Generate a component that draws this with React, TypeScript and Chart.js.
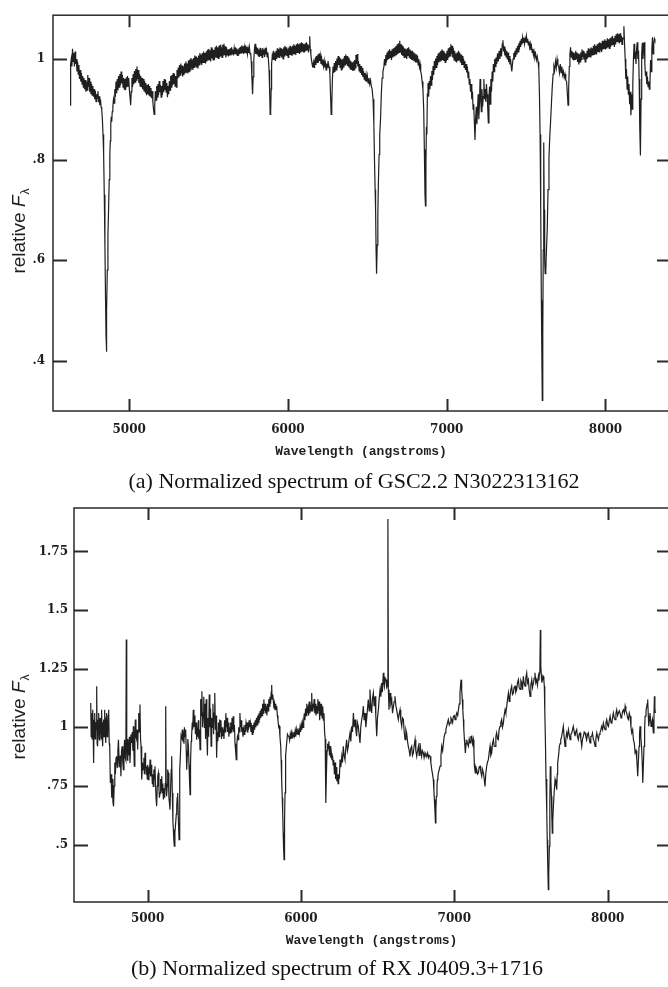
import React, { useEffect, useRef } from "react";
import { Chart, registerables } from "chart.js";
Chart.register(...registerables);

// ---------- axes / labels ----------
const xTicks = [5000, 6000, 7000, 8000];
const xMin = 4520;
const xMax = 8400;
const yTicksA = [0.4, 0.6, 0.8, 1];
const yTicksB = [0.5, 0.75, 1, 1.25, 1.5, 1.75];
const yMinA = 0.3;
const yMaxA = 1.087;
const yMinB = 0.255;
const yMaxB = 1.935;
const xTitle = "Wavelength (angstroms)";
const captionA = "(a) Normalized spectrum of GSC2.2 N3022313162";
const captionB = "(b) Normalized spectrum of RX J0409.3+1716";

// ---------- spectrum (a): [wavelength Å, relative flux] ----------
const spectrumA: [number, number][] = [
[4628,.908],[4631,.99],[4635,1.0],[4639,.985],[4643,1.02],[4647,.995],[4651,1.012],[4655,.985],[4659,1.015],[4663,.99],[4667,1.0],[4671,.975],[4675,.995],[4679,.97],[4683,.988],[4687,.96],[4691,.978],[4695,.955],[4699,.972],[4703,.95],[4707,.966],[4711,.944],[4715,.962],[4719,.94],[4723,.958],[4727,.935],[4731,.955],[4735,.938],[4739,.968],[4743,.945],[4747,.962],[4751,.935],[4755,.955],[4759,.93],[4763,.95],[4767,.928],[4771,.946],[4775,.925],[4779,.94],[4783,.92],[4787,.936],[4791,.915],[4795,.93],[4799,.922],[4803,.936],[4807,.914],[4811,.926],[4815,.908],[4819,.92],[4823,.904],[4827,.9],[4831,.88],[4835,.85],[4839,.81],[4843,.73],[4847,.63],[4851,.52],[4854,.45],[4856,.418],[4859,.5],[4862,.58],[4866,.65],[4870,.7],[4874,.76],[4878,.81],[4881,.837],[4884,.87],[4887,.885],[4890,.875],[4893,.895],[4897,.905],[4901,.92],[4905,.912],[4909,.94],[4913,.925],[4917,.955],[4921,.932],[4925,.96],[4929,.938],[4933,.966],[4937,.944],[4941,.97],[4945,.948],[4949,.975],[4953,.952],[4957,.968],[4961,.944],[4965,.962],[4969,.94],[4973,.96],[4977,.938],[4981,.963],[4985,.944],[4989,.966],[4993,.946],[4997,.962],[5001,.94],[5005,.925],[5009,.908],[5013,.935],[5017,.962],[5021,.944],[5025,.97],[5029,.95],[5033,.976],[5037,.954],[5041,.98],[5045,.958],[5049,.985],[5053,.96],[5057,.978],[5061,.952],[5065,.97],[5069,.946],[5073,.966],[5077,.944],[5081,.962],[5085,.94],[5089,.96],[5093,.936],[5097,.956],[5101,.934],[5105,.952],[5109,.928],[5113,.948],[5117,.93],[5121,.95],[5125,.928],[5129,.946],[5133,.926],[5137,.942],[5141,.922],[5145,.936],[5149,.915],[5153,.9],[5157,.89],[5161,.91],[5165,.936],[5169,.918],[5173,.946],[5177,.924],[5181,.95],[5185,.928],[5189,.956],[5193,.934],[5197,.948],[5201,.924],[5205,.946],[5209,.928],[5213,.956],[5217,.934],[5221,.96],[5225,.938],[5229,.958],[5233,.934],[5237,.952],[5241,.924],[5245,.946],[5249,.93],[5253,.956],[5257,.938],[5261,.966],[5265,.944],[5269,.968],[5273,.948],[5277,.972],[5281,.95],[5285,.97],[5289,.946],[5293,.966],[5297,.944],[5301,.978],[5305,.961],[5309,.983],[5313,.963],[5317,.988],[5321,.968],[5325,.991],[5329,.971],[5333,.987],[5337,.965],[5341,.985],[5345,.968],[5349,.991],[5353,.973],[5357,.995],[5361,.973],[5365,.991],[5369,.971],[5373,.997],[5377,.975],[5381,.999],[5385,.978],[5389,1.002],[5393,.981],[5397,.999],[5401,.978],[5405,1.002],[5409,.983],[5413,1.007],[5417,.985],[5421,1.005],[5425,.983],[5429,1.002],[5433,.981],[5437,1.007],[5441,.988],[5445,1.012],[5449,.991],[5453,1.009],[5457,.988],[5461,1.012],[5465,.993],[5469,1.015],[5473,.993],[5477,1.012],[5481,.991],[5485,1.015],[5489,.995],[5493,1.018],[5497,.998],[5501,1.02],[5505,.998],[5509,1.017],[5513,.995],[5517,1.023],[5521,1.001],[5525,1.02],[5529,.998],[5533,1.018],[5537,.998],[5541,1.023],[5545,1.003],[5549,1.026],[5553,1.003],[5557,1.023],[5561,1.001],[5565,1.026],[5569,1.003],[5573,1.028],[5577,1.005],[5581,1.023],[5585,1.003],[5589,1.028],[5593,1.008],[5597,1.03],[5601,1.008],[5605,1.025],[5609,1.003],[5613,1.023],[5617,1.008],[5621,1.019],[5625,1.005],[5629,1.019],[5633,1.007],[5637,1.021],[5641,1.007],[5645,1.023],[5649,1.01],[5653,1.019],[5657,1.007],[5661,1.021],[5665,1.01],[5669,1.023],[5673,1.01],[5677,1.021],[5681,1.007],[5685,1.019],[5689,1.007],[5693,1.022],[5697,1.01],[5701,1.024],[5705,1.012],[5709,1.027],[5713,1.012],[5717,1.025],[5721,1.01],[5725,1.023],[5729,1.012],[5733,1.027],[5737,1.012],[5741,1.024],[5745,1.01],[5749,1.021],[5753,1.012],[5757,1.023],[5761,1.01],[5765,1.012],[5769,.995],[5773,.96],[5777,.93],[5781,.965],[5785,1.0],[5789,1.02],[5793,1.03],[5797,1.01],[5801,1.024],[5805,1.01],[5809,1.022],[5813,1.006],[5817,1.019],[5821,1.004],[5825,1.022],[5829,1.006],[5833,1.018],[5837,1.003],[5841,1.022],[5845,1.009],[5849,1.019],[5853,1.004],[5857,1.022],[5861,1.009],[5865,1.017],[5869,1.004],[5873,1.013],[5877,.998],[5881,.978],[5885,.93],[5888,.89],[5891,.895],[5894,.94],[5897,.99],[5901,1.006],[5905,.998],[5909,1.016],[5913,.999],[5917,1.013],[5921,.996],[5925,1.016],[5929,1.0],[5933,1.021],[5937,1.003],[5941,1.019],[5945,1.003],[5949,1.023],[5953,1.006],[5957,1.021],[5961,1.003],[5965,1.019],[5969,1.0],[5973,1.023],[5977,1.006],[5981,1.026],[5985,1.008],[5989,1.023],[5993,1.006],[5997,1.019],[6001,1.003],[6005,1.023],[6009,1.008],[6013,1.026],[6017,1.008],[6021,1.023],[6025,1.006],[6029,1.026],[6033,1.01],[6037,1.029],[6041,1.01],[6045,1.026],[6049,1.008],[6053,1.029],[6057,1.013],[6061,1.031],[6065,1.013],[6069,1.029],[6073,1.01],[6077,1.031],[6081,1.013],[6085,1.033],[6089,1.016],[6093,1.031],[6097,1.013],[6101,1.029],[6105,1.013],[6109,1.031],[6113,1.016],[6117,1.033],[6121,1.018],[6125,1.029],[6129,1.013],[6133,1.026],[6137,1.045],[6140,1.02],[6144,1.01],[6148,.998],[6152,.99],[6156,.983],[6160,.993],[6164,.983],[6168,.996],[6172,1.0],[6176,.988],[6180,1.006],[6184,.993],[6188,1.009],[6192,.993],[6196,1.011],[6200,.996],[6204,1.006],[6208,.99],[6212,1.001],[6216,.988],[6220,.999],[6224,.986],[6228,.996],[6232,.983],[6236,.991],[6240,.978],[6244,.991],[6248,.983],[6252,.996],[6256,.988],[6260,.984],[6264,.97],[6268,.93],[6272,.89],[6276,.91],[6280,.96],[6284,.985],[6288,.972],[6292,.992],[6296,.974],[6300,.996],[6304,.978],[6308,1.001],[6312,.983],[6316,1.006],[6320,.988],[6324,1.004],[6328,.983],[6332,1.001],[6336,.978],[6340,.999],[6344,.98],[6348,1.001],[6352,.983],[6356,1.006],[6360,.988],[6364,1.009],[6368,.99],[6372,1.006],[6376,.986],[6380,1.003],[6384,.983],[6388,.999],[6392,.98],[6396,.996],[6400,.978],[6404,.993],[6408,.976],[6412,.995],[6416,.978],[6420,.998],[6424,.982],[6428,1.008],[6432,.99],[6436,1.01],[6440,.985],[6444,.996],[6448,.976],[6452,.99],[6456,.972],[6460,.986],[6464,.968],[6468,.982],[6472,.964],[6476,.976],[6480,.96],[6484,.972],[6488,.956],[6492,.968],[6496,.955],[6500,.966],[6505,.952],[6510,.962],[6515,.95],[6520,.958],[6525,.946],[6530,.94],[6536,.92],[6541,.87],[6545,.8],[6549,.74],[6552,.7],[6555,.62],[6558,.573],[6562,.63],[6566,.69],[6570,.76],[6574,.81],[6578,.85],[6583,.88],[6588,.93],[6593,.962],[6598,.975],[6604,.984],[6608,1.0],[6612,.988],[6616,1.008],[6620,.993],[6624,1.013],[6628,.998],[6632,1.016],[6636,1.0],[6640,1.019],[6644,1.003],[6648,1.016],[6652,.998],[6656,1.019],[6660,1.003],[6664,1.021],[6668,1.006],[6672,1.023],[6676,1.008],[6680,1.026],[6684,1.008],[6688,1.029],[6692,1.01],[6696,1.031],[6700,1.013],[6704,1.036],[6708,1.013],[6712,1.029],[6716,1.008],[6720,1.026],[6724,1.006],[6728,1.023],[6732,1.003],[6736,1.021],[6740,1.003],[6744,1.019],[6748,1.0],[6752,1.021],[6756,1.006],[6760,1.023],[6764,1.003],[6768,1.019],[6772,1.0],[6776,1.016],[6780,.998],[6784,1.016],[6788,.998],[6792,1.013],[6796,.996],[6800,1.011],[6804,.993],[6808,1.009],[6812,.993],[6816,1.006],[6820,.988],[6824,1.0],[6828,.984],[6832,.99],[6836,.975],[6840,.97],[6845,.955],[6850,.94],[6855,.9],[6859,.82],[6863,.73],[6866,.708],[6869,.79],[6872,.865],[6875,.85],[6878,.93],[6882,.952],[6886,.925],[6890,.956],[6894,.94],[6898,.966],[6902,.948],[6906,.976],[6910,.958],[6914,.986],[6918,.968],[6922,.996],[6926,.978],[6930,1.001],[6934,.983],[6938,1.006],[6942,.988],[6946,1.011],[6950,.993],[6954,1.013],[6958,.996],[6962,1.016],[6966,.998],[6970,1.019],[6974,.998],[6978,1.016],[6982,.996],[6986,1.013],[6990,.993],[6994,1.011],[6998,.996],[7002,1.016],[7006,.998],[7010,1.021],[7014,1.003],[7018,1.023],[7022,1.006],[7026,1.029],[7030,1.01],[7034,1.026],[7038,1.003],[7042,1.021],[7046,.998],[7050,1.016],[7054,.996],[7058,1.011],[7062,.993],[7066,1.013],[7070,.996],[7074,1.016],[7078,.998],[7082,1.013],[7086,.993],[7090,1.009],[7094,.988],[7098,1.006],[7102,.988],[7106,1.001],[7110,.983],[7114,.996],[7118,.978],[7122,.99],[7126,.973],[7130,.985],[7134,.963],[7138,.975],[7142,.95],[7146,.96],[7150,.935],[7154,.95],[7158,.92],[7162,.935],[7166,.9],[7170,.91],[7174,.875],[7178,.839],[7182,.88],[7186,.905],[7190,.87],[7194,.9],[7198,.93],[7202,.88],[7206,.91],[7210,.96],[7214,.92],[7218,.895],[7222,.94],[7226,.905],[7230,.925],[7234,.96],[7238,.92],[7242,.94],[7246,.915],[7250,.95],[7254,.93],[7258,.905],[7262,.873],[7266,.925],[7270,.945],[7274,.91],[7278,.96],[7282,.935],[7286,.975],[7290,.955],[7294,.99],[7298,.975],[7302,1.0],[7306,.985],[7310,1.003],[7315,.99],[7320,1.011],[7325,.995],[7330,1.016],[7335,1.0],[7340,1.021],[7345,1.005],[7350,1.03],[7354,1.037],[7358,1.015],[7362,1.025],[7366,1.007],[7370,1.02],[7374,1.004],[7378,1.016],[7382,.999],[7386,1.013],[7390,.994],[7394,1.006],[7398,.989],[7402,1.0],[7406,.985],[7410,.975],[7414,.99],[7418,1.0],[7422,1.012],[7426,.999],[7430,1.016],[7434,1.004],[7438,1.021],[7442,1.009],[7446,1.026],[7450,1.014],[7454,1.031],[7458,1.019],[7462,1.036],[7466,1.024],[7470,1.04],[7474,1.029],[7478,1.043],[7482,1.033],[7486,1.042],[7490,1.03],[7494,1.04],[7498,1.033],[7502,1.045],[7506,1.033],[7510,1.04],[7514,1.028],[7518,1.035],[7522,1.023],[7526,1.03],[7530,1.018],[7534,1.025],[7538,1.013],[7542,1.02],[7546,1.008],[7550,1.015],[7555,1.003],[7560,1.01],[7565,.998],[7570,1.005],[7575,.995],[7580,.98],[7584,.93],[7588,.85],[7592,.7],[7596,.52],[7600,.38],[7602,.321],[7605,.45],[7608,.62],[7611,.834],[7614,.7],[7617,.6],[7620,.573],[7624,.58],[7628,.62],[7633,.66],[7638,.74],[7644,.805],[7649,.845],[7654,.875],[7660,.915],[7665,.946],[7670,.97],[7675,.985],[7680,.978],[7685,.995],[7690,.983],[7695,1.0],[7700,.988],[7705,.985],[7710,.973],[7715,.99],[7720,.973],[7725,.985],[7730,.968],[7735,.975],[7740,.963],[7745,.97],[7750,.958],[7755,.955],[7760,.93],[7764,.908],[7768,.94],[7772,.985],[7776,1.01],[7780,1.023],[7784,1.004],[7788,1.016],[7792,.999],[7796,1.013],[7800,.997],[7804,1.011],[7808,.999],[7812,1.016],[7816,1.001],[7820,1.013],[7824,.994],[7828,1.011],[7832,.989],[7836,1.009],[7840,.994],[7844,1.013],[7848,.999],[7852,1.019],[7856,1.004],[7860,1.016],[7864,.999],[7868,1.013],[7872,.994],[7876,1.011],[7880,.999],[7884,1.016],[7888,1.001],[7892,1.021],[7896,1.004],[7900,1.019],[7904,1.004],[7908,1.023],[7912,1.007],[7916,1.021],[7920,1.007],[7924,1.026],[7928,1.009],[7932,1.029],[7936,1.011],[7940,1.026],[7944,1.009],[7948,1.029],[7952,1.014],[7956,1.031],[7960,1.014],[7964,1.033],[7968,1.017],[7972,1.031],[7976,1.014],[7980,1.036],[7984,1.019],[7988,1.036],[7992,1.021],[7996,1.039],[8000,1.019],[8004,1.036],[8008,1.021],[8012,1.041],[8016,1.024],[8020,1.039],[8024,1.021],[8028,1.041],[8032,1.024],[8036,1.043],[8040,1.027],[8044,1.046],[8048,1.029],[8052,1.041],[8056,1.024],[8060,1.046],[8064,1.029],[8068,1.049],[8072,1.034],[8076,1.051],[8080,1.034],[8084,1.049],[8088,1.031],[8092,1.051],[8096,1.034],[8100,1.046],[8104,1.029],[8108,1.041],[8112,1.04],[8116,1.065],[8120,1.03],[8124,1.0],[8128,.96],[8132,.98],[8136,.94],[8140,.965],[8144,.93],[8148,.95],[8152,.91],[8156,.935],[8160,.888],[8164,.93],[8168,.9],[8172,.95],[8176,1.0],[8180,1.03],[8184,1.0],[8188,1.015],[8192,.99],[8196,1.02],[8200,1.033],[8204,1.0],[8208,1.017],[8212,.96],[8216,.86],[8220,.808],[8224,.92],[8228,1.01],[8232,1.032],[8236,1.0],[8240,1.025],[8244,1.033],[8248,.99],[8252,.966],[8256,.975],[8260,.95],[8264,.965],[8268,.945],[8272,.955],[8276,.94],[8280,.95],[8284,.998],[8288,.975],[8292,1.02],[8296,1.043],[8300,1.01],[8304,1.03],[8308,1.04],[8311,1.037]
];

// ---------- spectrum (b): [wavelength Å, relative flux] ----------
const spectrumB: [number, number][] = [
[4629,1.104],[4632,.96],[4635,1.06],[4638,.95],[4642,1.075],[4645,.99],[4648,.848],[4651,1.03],[4655,1.061],[4658,.95],[4661,.976],[4664,1.02],[4668,1.175],[4671,.93],[4674,.919],[4677,1.03],[4681,1.061],[4684,.95],[4687,.947],[4690,1.04],[4694,1.018],[4697,.95],[4700,1.075],[4703,.98],[4707,.919],[4710,1.02],[4713,1.033],[4716,.96],[4720,1.075],[4723,1.0],[4727,.933],[4730,1.04],[4733,1.061],[4736,.96],[4740,.976],[4743,1.05],[4746,1.075],[4750,.93],[4753,.919],[4757,.763],[4762,.8],[4766,.7],[4770,.78],[4774,.68],[4778,.663],[4782,.75],[4786,.85],[4790,.8],[4794,.87],[4798,.876],[4802,.83],[4806,.9],[4810,.947],[4814,.86],[4818,.83],[4822,.88],[4826,.791],[4830,.9],[4834,.919],[4838,.85],[4842,.819],[4846,.9],[4850,.947],[4854,.87],[4858,.86],[4861,1.374],[4864,.93],[4868,.86],[4871,.95],[4874,.919],[4878,.88],[4881,.96],[4885,.848],[4888,.9],[4892,.97],[4896,.933],[4900,.98],[4904,.9],[4907,1.004],[4910,.92],[4913,.834],[4917,.95],[4920,1.033],[4924,.96],[4929,.947],[4932,.99],[4935,.905],[4938,.98],[4942,1.061],[4946,.98],[4950,1.097],[4954,.95],[4957,.919],[4960,.86],[4963,.777],[4967,.85],[4972,.819],[4976,.87],[4979,.8],[4983,.891],[4987,.84],[4990,.8],[4994,.834],[4998,.78],[5001,.84],[5005,.777],[5009,.83],[5012,.8],[5016,.862],[5020,.79],[5023,.84],[5027,.805],[5031,.76],[5034,.8],[5037,.748],[5041,.82],[5044,.78],[5048,.834],[5052,.75],[5055,.7],[5059,.663],[5063,.75],[5066,.79],[5070,.805],[5074,.74],[5077,.7],[5081,.72],[5085,.78],[5088,.73],[5092,.791],[5096,.72],[5099,.76],[5103,.692],[5107,.74],[5111,.7],[5115,.76],[5118,1.09],[5121,.76],[5124,.706],[5128,.75],[5131,.82],[5135,.805],[5139,.7],[5142,.68],[5146,.649],[5150,.74],[5154,.82],[5157,.876],[5161,.72],[5165,.6],[5168,.564],[5171,.52],[5174,.493],[5178,.55],[5183,.592],[5187,.63],[5190,.663],[5193,.7],[5196,.72],[5200,.62],[5205,.521],[5208,.68],[5211,.819],[5215,.9],[5218,.96],[5222,.947],[5226,.99],[5230,.94],[5233,.98],[5237,.93],[5240,1.0],[5244,.96],[5248,.99],[5252,.9],[5255,.819],[5259,.88],[5262,.95],[5266,.919],[5270,.84],[5274,.76],[5277,.713],[5280,.85],[5284,.94],[5287,.962],[5291,1.02],[5294,.99],[5298,1.075],[5302,1.0],[5305,1.05],[5309,1.033],[5312,.97],[5316,1.02],[5320,.947],[5324,1.0],[5327,.96],[5331,1.03],[5334,.95],[5338,.99],[5342,.905],[5346,1.12],[5350,1.05],[5354,1.154],[5358,1.0],[5362,1.06],[5366,1.13],[5370,1.0],[5374,1.1],[5378,.95],[5382,1.12],[5386,.98],[5390,.88],[5394,1.04],[5398,.96],[5402,1.14],[5406,1.0],[5410,1.08],[5414,.92],[5418,1.04],[5422,1.0],[5426,1.1],[5430,.97],[5434,1.06],[5438,1.146],[5442,.99],[5446,1.05],[5450,.87],[5454,.98],[5458,.94],[5462,1.02],[5466,.96],[5470,1.033],[5474,.98],[5478,1.03],[5482,.95],[5486,1.0],[5490,.962],[5494,.99],[5498,.95],[5502,1.03],[5506,.98],[5510,1.06],[5514,1.0],[5518,1.04],[5522,.98],[5526,1.02],[5530,.96],[5534,1.0],[5538,.976],[5542,1.02],[5546,.98],[5550,1.04],[5554,.99],[5558,1.047],[5562,.98],[5566,1.01],[5570,.93],[5574,.9],[5578,.862],[5582,.93],[5586,.96],[5590,.947],[5594,1.0],[5598,.98],[5602,1.061],[5606,1.0],[5610,1.03],[5614,.98],[5618,1.0],[5622,.96],[5626,.99],[5630,.97],[5634,1.01],[5638,.98],[5642,1.02],[5646,1.004],[5650,.98],[5654,1.02],[5658,.99],[5662,1.03],[5666,1.0],[5670,1.018],[5674,.98],[5678,1.0],[5682,.97],[5686,1.01],[5690,.976],[5694,1.02],[5698,.99],[5702,1.03],[5706,1.0],[5710,1.04],[5714,1.01],[5718,1.05],[5722,1.02],[5726,1.06],[5730,1.03],[5734,1.07],[5738,1.04],[5742,1.08],[5746,1.05],[5750,1.1],[5754,1.06],[5758,1.118],[5762,1.07],[5766,1.1],[5770,1.06],[5774,1.09],[5778,1.05],[5782,1.1],[5786,1.07],[5790,1.12],[5794,1.09],[5798,1.13],[5802,1.1],[5806,1.15],[5809,1.18],[5812,1.12],[5816,1.14],[5820,1.111],[5824,1.08],[5828,1.1],[5831,1.075],[5835,1.1],[5838,1.08],[5842,1.09],[5846,1.05],[5850,1.03],[5855,1.0],[5859,1.004],[5863,.96],[5868,.919],[5871,.86],[5874,.777],[5878,.7],[5881,.635],[5884,.55],[5887,.48],[5890,.436],[5893,.6],[5896,.72],[5898,.777],[5902,.88],[5907,.933],[5912,.97],[5918,.962],[5922,.96],[5926,.945],[5930,.97],[5934,.95],[5938,.975],[5942,.955],[5946,.97],[5950,.96],[5954,.98],[5958,.965],[5962,.985],[5966,.96],[5970,.99],[5974,.97],[5978,.985],[5982,.97],[5986,.995],[5990,.975],[5994,1.0],[5998,.98],[6002,1.01],[6006,.99],[6010,1.02],[6014,1.0],[6018,1.03],[6022,1.06],[6026,1.03],[6030,1.08],[6034,1.05],[6038,1.1],[6042,1.06],[6046,1.08],[6050,1.05],[6054,1.11],[6058,1.06],[6062,1.09],[6066,1.07],[6070,1.146],[6074,1.07],[6078,1.1],[6082,1.08],[6086,1.12],[6090,1.06],[6094,1.1],[6098,1.05],[6102,1.09],[6106,1.06],[6110,1.12],[6114,1.07],[6118,1.11],[6122,1.03],[6126,1.1],[6130,1.05],[6134,1.1],[6138,1.04],[6142,1.09],[6146,1.03],[6150,1.06],[6154,.98],[6158,.95],[6161,.82],[6163,.677],[6166,.8],[6170,.9],[6174,.93],[6178,.91],[6182,.94],[6186,.88],[6190,.92],[6194,.87],[6198,.89],[6202,.86],[6206,.88],[6210,.84],[6214,.86],[6218,.8],[6222,.85],[6226,.78],[6230,.83],[6234,.77],[6238,.8],[6242,.76],[6246,.8],[6250,.78],[6255,.862],[6260,.83],[6266,.876],[6271,.85],[6276,.919],[6281,.88],[6287,.862],[6292,.91],[6298,.947],[6303,.9],[6309,.919],[6314,.95],[6320,.976],[6325,.94],[6331,1.004],[6336,.98],[6342,1.061],[6347,1.0],[6353,1.033],[6358,.99],[6363,.962],[6368,1.02],[6374,1.004],[6379,.97],[6385,.933],[6390,1.0],[6396,1.033],[6401,1.05],[6407,1.09],[6412,1.03],[6418,1.061],[6423,1.0],[6428,1.033],[6434,1.08],[6439,1.118],[6445,1.07],[6450,1.161],[6455,1.1],[6461,1.061],[6466,1.12],[6472,1.146],[6477,1.09],[6483,1.132],[6488,1.05],[6494,.962],[6499,1.04],[6505,1.075],[6510,1.12],[6516,1.161],[6521,1.13],[6526,1.189],[6531,1.15],[6537,1.232],[6541,1.19],[6544,1.175],[6549,1.21],[6555,1.203],[6559,1.17],[6563,1.175],[6567,1.888],[6570,1.16],[6574,1.075],[6577,1.12],[6581,1.146],[6586,1.1],[6592,1.118],[6597,1.06],[6603,1.09],[6608,1.11],[6613,1.132],[6619,1.09],[6624,1.075],[6630,1.05],[6635,1.033],[6641,1.06],[6646,1.075],[6651,1.03],[6657,1.004],[6662,1.04],[6668,1.033],[6673,.98],[6679,.947],[6684,.99],[6689,.976],[6695,.94],[6700,.919],[6706,.9],[6711,.876],[6716,.91],[6722,.919],[6727,.88],[6733,.891],[6738,.92],[6744,.947],[6749,.9],[6755,.876],[6760,.9],[6766,.919],[6771,.88],[6776,.933],[6782,.9],[6787,.876],[6792,.9],[6798,.891],[6803,.87],[6809,.891],[6814,.88],[6820,.876],[6826,.89],[6831,.87],[6836,.88],[6842,.876],[6847,.85],[6853,.819],[6858,.8],[6863,.777],[6867,.73],[6870,.692],[6874,.64],[6877,.592],[6880,.65],[6883,.706],[6887,.75],[6890,.777],[6893,.79],[6896,.805],[6902,.82],[6907,.834],[6913,.88],[6918,.919],[6924,.9],[6929,.933],[6934,.96],[6940,.976],[6945,.99],[6950,1.004],[6956,1.02],[6961,1.033],[6967,1.01],[6972,1.018],[6978,1.04],[6983,1.033],[6989,1.02],[6994,1.047],[7000,1.05],[7005,1.033],[7011,1.05],[7016,1.061],[7022,1.05],[7027,1.075],[7032,1.1],[7037,1.146],[7041,1.18],[7044,1.203],[7048,1.16],[7052,1.118],[7056,1.07],[7059,1.033],[7062,.99],[7066,.947],[7069,.92],[7072,.891],[7077,.93],[7081,.947],[7086,.93],[7092,.919],[7097,.95],[7103,.933],[7108,.96],[7114,.962],[7119,.93],[7124,.947],[7128,.9],[7131,.834],[7134,.82],[7137,.805],[7141,.83],[7146,.819],[7151,.8],[7157,.805],[7162,.83],[7168,.834],[7173,.81],[7179,.791],[7184,.82],[7190,.805],[7195,.78],[7200,.748],[7205,.8],[7211,.834],[7216,.85],[7222,.862],[7227,.89],[7233,.919],[7238,.88],[7244,.891],[7249,.93],[7255,.947],[7260,.92],[7266,.919],[7271,.96],[7276,.976],[7282,.95],[7287,.947],[7292,.99],[7298,1.004],[7303,1.02],[7309,1.033],[7314,1.0],[7320,1.018],[7325,1.05],[7331,1.075],[7336,1.06],[7342,1.09],[7347,1.12],[7353,1.146],[7358,1.11],[7363,1.132],[7368,1.16],[7374,1.175],[7379,1.14],[7385,1.146],[7390,1.17],[7396,1.175],[7401,1.15],[7407,1.161],[7412,1.19],[7418,1.203],[7423,1.17],[7429,1.161],[7434,1.2],[7440,1.189],[7445,1.16],[7450,1.217],[7455,1.19],[7461,1.175],[7466,1.21],[7472,1.232],[7477,1.19],[7483,1.203],[7488,1.16],[7494,1.132],[7499,1.18],[7505,1.203],[7510,1.17],[7516,1.189],[7521,1.21],[7526,1.232],[7531,1.19],[7537,1.203],[7542,1.18],[7548,1.217],[7552,1.2],[7555,1.232],[7558,1.25],[7561,1.415],[7564,1.26],[7568,1.217],[7571,1.19],[7574,1.203],[7578,1.22],[7581,1.217],[7584,1.2],[7587,1.175],[7590,1.07],[7594,.947],[7598,.78],[7603,.635],[7606,.52],[7609,.421],[7613,.308],[7616,.38],[7620,.493],[7623,.68],[7626,.834],[7630,.77],[7633,.706],[7636,.62],[7639,.549],[7642,.6],[7646,.663],[7651,.72],[7657,.777],[7662,.76],[7668,.734],[7671,.8],[7674,.848],[7680,.88],[7685,.919],[7690,.93],[7694,.947],[7700,.96],[7705,.98],[7711,1.004],[7716,.96],[7722,.919],[7727,.95],[7733,.976],[7738,.96],[7744,.99],[7749,.97],[7755,.947],[7760,.97],[7766,.976],[7771,.99],[7776,1.004],[7782,.98],[7787,.962],[7792,.98],[7798,.99],[7803,.96],[7809,.947],[7814,.97],[7820,.976],[7825,.95],[7831,.919],[7836,.95],[7842,.962],[7847,.98],[7853,.976],[7858,.96],[7863,.947],[7869,.97],[7874,.976],[7880,.95],[7885,.933],[7890,.96],[7896,.962],[7901,.975],[7907,.947],[7912,.94],[7918,.919],[7923,.95],[7929,.976],[7934,.96],[7940,.947],[7945,.97],[7950,.976],[7956,.99],[7961,1.004],[7967,.99],[7972,1.018],[7978,1.0],[7983,.99],[7989,1.02],[7994,1.033],[8000,1.01],[8005,1.004],[8011,1.03],[8016,1.047],[8022,1.02],[8027,1.018],[8032,1.04],[8037,1.061],[8043,1.04],[8048,1.033],[8054,1.06],[8059,1.075],[8065,1.05],[8070,1.061],[8076,1.07],[8081,1.061],[8087,1.04],[8092,1.047],[8098,1.07],[8103,1.075],[8109,1.06],[8114,1.09],[8119,1.07],[8124,1.061],[8130,1.04],[8135,1.033],[8141,1.06],[8146,1.047],[8152,1.0],[8157,.976],[8163,.99],[8168,.947],[8174,.93],[8179,.891],[8185,.9],[8190,.862],[8193,.83],[8196,.791],[8200,.85],[8205,.919],[8208,.97],[8211,1.004],[8216,.96],[8222,.905],[8226,.84],[8229,.763],[8233,.84],[8237,.919],[8241,.99],[8244,1.047],[8250,1.07],[8255,1.09],[8258,1.1],[8261,1.118],[8265,1.05],[8268,1.004],[8272,1.03],[8276,1.061],[8280,1.03],[8283,1.004],[8288,1.02],[8292,1.033],[8295,1.0],[8298,.976],[8302,1.05],[8305,1.132],[8308,1.08],[8311,1.061]
];

const fmtTick = (v: number) => {
  const s = String(+Number(v).toFixed(2));
  return s.startsWith("0.") ? s.slice(1) : s;
};

const INK = "#1f1f1f";

const framePlugin = {
  id: "frameTicks",
  afterDraw(chart: any, _args: any, opts: any) {
    const { ctx, chartArea } = chart;
    const { left, right, top, bottom } = chartArea;
    const xs = chart.scales.x;
    const ys = chart.scales.y;
    ctx.save();
    ctx.strokeStyle = "#2a2a2a";
    ctx.lineWidth = 1.5;
    ctx.strokeRect(left, top, right - left, bottom - top);
    ctx.lineWidth = 2;
    ctx.beginPath();
    for (const t of xs.ticks) {
      const px = Math.round(xs.getPixelForValue(t.value)) + 0.5;
      ctx.moveTo(px, bottom);
      ctx.lineTo(px, bottom - 12);
      ctx.moveTo(px, top);
      ctx.lineTo(px, top + 12);
    }
    for (const t of ys.ticks) {
      const py = Math.round(ys.getPixelForValue(t.value)) + 0.5;
      ctx.moveTo(left, py);
      ctx.lineTo(left + 14, py);
      ctx.moveTo(right, py);
      ctx.lineTo(right - 12, py);
    }
    ctx.stroke();

    // y axis title: relative F_lambda (rotated)
    const cy = opts.titleY;
    const bx = opts.titleX;
    ctx.translate(bx, cy);
    ctx.rotate(-Math.PI / 2);
    ctx.fillStyle = INK;
    ctx.textBaseline = "alphabetic";
    ctx.textAlign = "left";
    const f1 = '19px "Liberation Sans", Arial, sans-serif';
    const f2 = 'italic 19px "Liberation Sans", Arial, sans-serif';
    const f3 = '12px "Liberation Sans", Arial, sans-serif';
    ctx.font = f1;
    const w1 = ctx.measureText("relative ").width;
    ctx.font = f2;
    const w2 = ctx.measureText("F").width;
    ctx.font = f3;
    const w3 = ctx.measureText("\u03bb").width;
    const total = w1 + w2 + 1 + w3;
    let x0 = -total / 2;
    ctx.font = f1;
    ctx.fillText("relative ", x0, 0);
    x0 += w1;
    ctx.font = f2;
    ctx.fillText("F", x0, 0);
    x0 += w2 + 1;
    ctx.font = f3;
    ctx.fillText("\u03bb", x0, 4);
    ctx.restore();
  },
};

type PanelProps = {
  data: [number, number][];
  yMin: number;
  yMax: number;
  yTicks: number[];
  width: number;
  height: number;
  padTop: number;
  padRight: number;
  yAxisWidth: number;
  xAxisHeight: number;
  yLabelPad: number;
  xLabelPad: number;
  xTitlePadBottom: number;
  titleX: number;
  titleY: number;
  top: number;
};

function SpectrumPanel(p: PanelProps) {
  const ref = useRef<HTMLCanvasElement | null>(null);
  useEffect(() => {
    if (!ref.current) return;
    const chart = new Chart(ref.current, {
      type: "line",
      data: {
        datasets: [
          {
            data: p.data.map(([x, y]) => ({ x, y })),
            borderColor: INK,
            borderWidth: 1.2,
            pointRadius: 0,
            tension: 0,
            fill: false,
          },
        ],
      },
      options: {
        animation: false,
        responsive: false,
        maintainAspectRatio: false,
        layout: { padding: { top: p.padTop, right: p.padRight, left: 0, bottom: 0 } },
        plugins: {
          legend: { display: false },
          tooltip: { enabled: false },
          frameTicks: { titleX: p.titleX, titleY: p.titleY },
        } as any,
        scales: {
          x: {
            type: "linear",
            min: xMin,
            max: xMax,
            afterBuildTicks: (s: any) => {
              s.ticks = xTicks.map((v) => ({ value: v }));
            },
            afterFit: (s: any) => {
              s.height = p.xAxisHeight;
            },
            grid: { display: false, drawTicks: false },
            border: { display: false },
            ticks: {
              autoSkip: false,
              maxRotation: 0,
              padding: p.xLabelPad,
              color: INK,
              font: { family: '"DejaVu Serif", serif', weight: "bold", size: 12 },
              callback: (v: any) => fmtTick(v),
            },
            title: {
              display: true,
              text: xTitle,
              color: INK,
              font: { family: '"Liberation Mono", monospace', weight: "bold", size: 13 },
              padding: { top: 0, bottom: p.xTitlePadBottom },
            },
          },
          y: {
            type: "linear",
            min: p.yMin,
            max: p.yMax,
            afterBuildTicks: (s: any) => {
              s.ticks = p.yTicks.map((v) => ({ value: v }));
            },
            afterFit: (s: any) => {
              s.width = p.yAxisWidth;
            },
            grid: { display: false, drawTicks: false },
            border: { display: false },
            ticks: {
              autoSkip: false,
              padding: p.yLabelPad,
              color: INK,
              font: { family: '"DejaVu Serif", serif', weight: "bold", size: 12 },
              callback: (v: any) => fmtTick(v),
            },
          },
        },
      } as any,
      plugins: [framePlugin],
    });
    return () => chart.destroy();
  }, []);
  return (
    <canvas
      ref={ref}
      width={p.width}
      height={p.height}
      style={{ position: "absolute", left: 0, top: p.top, width: p.width, height: p.height }}
    />
  );
}

const captionStyle: React.CSSProperties = {
  position: "absolute",
  fontFamily: '"Liberation Serif", "Times New Roman", serif',
  fontSize: "22px",
  lineHeight: "22px",
  whiteSpace: "nowrap",
  textAlign: "center",
  color: "#111",
  left: 0,
};

export default function App() {
  return (
    <div
      style={{
        position: "absolute",
        left: 0,
        top: 0,
        width: 668,
        height: 987,
        overflow: "hidden",
        background: "#fff",
      }}
    >
      <SpectrumPanel
        data={spectrumA}
        yMin={yMinA}
        yMax={yMaxA}
        yTicks={yTicksA}
        width={680}
        height={470}
        top={0}
        padTop={4}
        padRight={11}
        yAxisWidth={53}
        xAxisHeight={59}
        yLabelPad={8}
        xLabelPad={12}
        xTitlePadBottom={10}
        titleX={25}
        titleY={231}
      />
      <div style={{ ...captionStyle, top: 470, width: 708 }}>{captionA}</div>
      <SpectrumPanel
        data={spectrumB}
        yMin={yMinB}
        yMax={yMaxB}
        yTicks={yTicksB}
        width={680}
        height={470}
        top={490}
        padTop={18}
        padRight={11}
        yAxisWidth={74}
        xAxisHeight={58}
        yLabelPad={6}
        xLabelPad={10}
        xTitlePadBottom={11}
        titleX={25}
        titleY={227}
      />
      <div style={{ ...captionStyle, top: 957, width: 674 }}>{captionB}</div>
    </div>
  );
}
